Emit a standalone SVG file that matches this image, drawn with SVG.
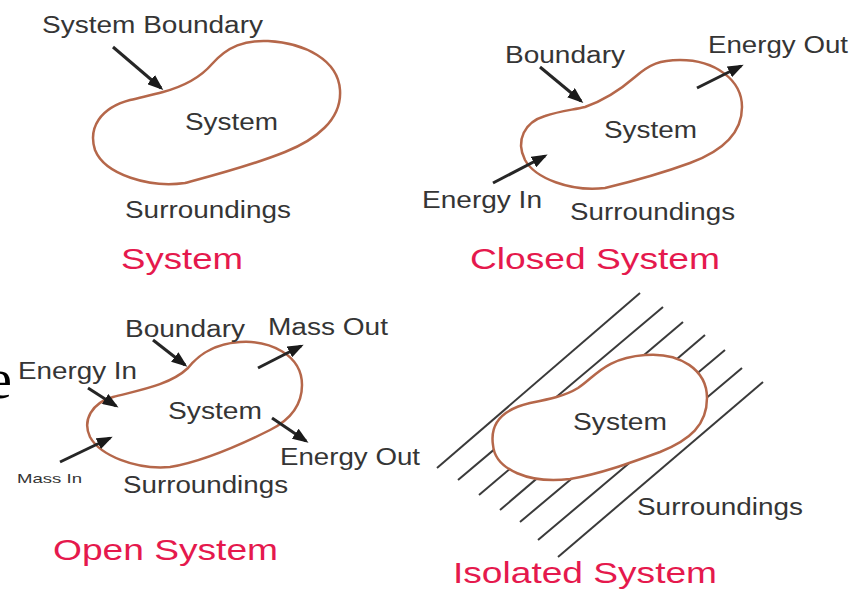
<svg xmlns="http://www.w3.org/2000/svg" width="852" height="589" viewBox="0 0 852 589">
<style>
.lbl{font-family:"Liberation Sans",Arial,sans-serif;font-size:23px;fill:#353535}
.sm{font-size:13px}
.ttl{font-family:"Liberation Sans",Arial,sans-serif;font-size:30px;fill:#e5194d}
.blob{fill:#ffffff;stroke:#b5674a;stroke-width:2.5}
.arr{stroke:#262626;stroke-width:3;fill:none;marker-end:url(#ah)}
.hatch{stroke:#3a3a3a;stroke-width:2;fill:none}
</style>
<defs>
<marker id="ah" viewBox="0 0 16 12" refX="13" refY="6" markerWidth="16" markerHeight="12" markerUnits="userSpaceOnUse" orient="auto">
<path d="M0,0 L16,6 L0,12 z" fill="#1a1a1a"/>
</marker>
</defs>
<rect width="852" height="589" fill="#ffffff"/>
<text x="-13" y="398" style="font-family:'Liberation Serif','Times New Roman',serif;font-size:56px;fill:#000">e</text>

<g id="system">
<path class="blob" d="M163,92 C185,86 200,78 212,64 C228,46 245,40 268,41 C305,43 338,60 340,90 C342,120 315,140 285,152 C250,166 215,175 185,183 C150,188 105,175 95,150 C88,128 100,108 130,100 C142,97 152,95 163,92 Z"/>
<text class="lbl" x="42" y="33" textLength="221" lengthAdjust="spacingAndGlyphs">System Boundary</text>
<text class="lbl" x="185" y="130" textLength="93" lengthAdjust="spacingAndGlyphs">System</text>
<text class="lbl" x="125" y="218" textLength="166" lengthAdjust="spacingAndGlyphs">Surroundings</text>
<text class="ttl" x="121" y="269" textLength="122" lengthAdjust="spacingAndGlyphs">System</text>
</g>

<g id="closed-system">
<path class="blob" d="M585,107 C605,100 620,90 635,77 C650,64 660,60 680,60 C715,60 742,80 742,107 C742,135 720,152 690,163 C660,174 630,182 605,188 C570,192 535,178 525,160 C515,140 525,122 545,116 C560,111 572,110 585,107 Z"/>
<text class="lbl" x="505" y="63" textLength="120" lengthAdjust="spacingAndGlyphs">Boundary</text>
<text class="lbl" x="708" y="53" textLength="140" lengthAdjust="spacingAndGlyphs">Energy Out</text>
<text class="lbl" x="604" y="138" textLength="93" lengthAdjust="spacingAndGlyphs">System</text>
<text class="lbl" x="422" y="208" textLength="120" lengthAdjust="spacingAndGlyphs">Energy In</text>
<text class="lbl" x="570" y="220" textLength="165" lengthAdjust="spacingAndGlyphs">Surroundings</text>
<text class="ttl" x="470" y="269" textLength="250" lengthAdjust="spacingAndGlyphs">Closed System</text>
</g>

<g id="open-system">
<path class="blob" d="M188,368 C196,358 210,344 240,342 C270,340 302,355 302,385 C302,405 290,420 270,430 C240,445 200,462 170,467 C135,470 100,455 90,437 C82,420 92,403 113,397 C140,390 170,385 188,368 Z"/>
<text class="lbl" x="125" y="337" textLength="120" lengthAdjust="spacingAndGlyphs">Boundary</text>
<text class="lbl" x="268" y="335" textLength="120" lengthAdjust="spacingAndGlyphs">Mass Out</text>
<text class="lbl" x="18" y="379" textLength="119" lengthAdjust="spacingAndGlyphs">Energy In</text>
<text class="lbl" x="168" y="419" textLength="94" lengthAdjust="spacingAndGlyphs">System</text>
<text class="lbl" x="280" y="465" textLength="140" lengthAdjust="spacingAndGlyphs">Energy Out</text>
<text class="lbl sm" x="17" y="483" textLength="65" lengthAdjust="spacingAndGlyphs">Mass In</text>
<text class="lbl" x="123" y="493" textLength="165" lengthAdjust="spacingAndGlyphs">Surroundings</text>
<text class="ttl" x="53" y="560" textLength="225" lengthAdjust="spacingAndGlyphs">Open System</text>
</g>

<g id="isolated-system">
<g class="hatch">
<line x1="437" y1="468" x2="640" y2="293"/>
<line x1="458" y1="480" x2="663" y2="307"/>
<line x1="479" y1="495" x2="683" y2="322"/>
<line x1="500" y1="510" x2="705" y2="335"/>
<line x1="520" y1="522" x2="725" y2="350"/>
<line x1="538" y1="540" x2="742" y2="368"/>
<line x1="558" y1="557" x2="763" y2="382"/>
</g>
<path class="blob" d="M493,445 C490,425 500,410 530,403 C550,399 565,396 578,388 C595,377 605,358 645,355 C680,352 707,370 707,398 C707,425 690,440 660,452 C630,463 600,474 570,479 C530,484 495,470 493,445 Z"/>
<text class="lbl" x="573" y="430" textLength="94" lengthAdjust="spacingAndGlyphs">System</text>
<text class="lbl" x="637" y="515" textLength="166" lengthAdjust="spacingAndGlyphs">Surroundings</text>
<text class="ttl" x="453" y="583" textLength="264" lengthAdjust="spacingAndGlyphs">Isolated System</text>
</g>

<g id="connectors">
<line class="arr" x1="113" y1="47" x2="161" y2="88"/>
<line class="arr" x1="540" y1="67" x2="581" y2="101"/>
<line class="arr" x1="697" y1="88" x2="741" y2="66"/>
<line class="arr" x1="493" y1="183" x2="545" y2="156"/>
<line class="arr" x1="153" y1="340" x2="185" y2="365"/>
<line class="arr" x1="258" y1="368" x2="301" y2="346"/>
<line class="arr" x1="88" y1="388" x2="116" y2="406"/>
<line class="arr" x1="60" y1="462" x2="110" y2="438"/>
<line class="arr" x1="272" y1="418" x2="306" y2="441"/>
</g>
</svg>
